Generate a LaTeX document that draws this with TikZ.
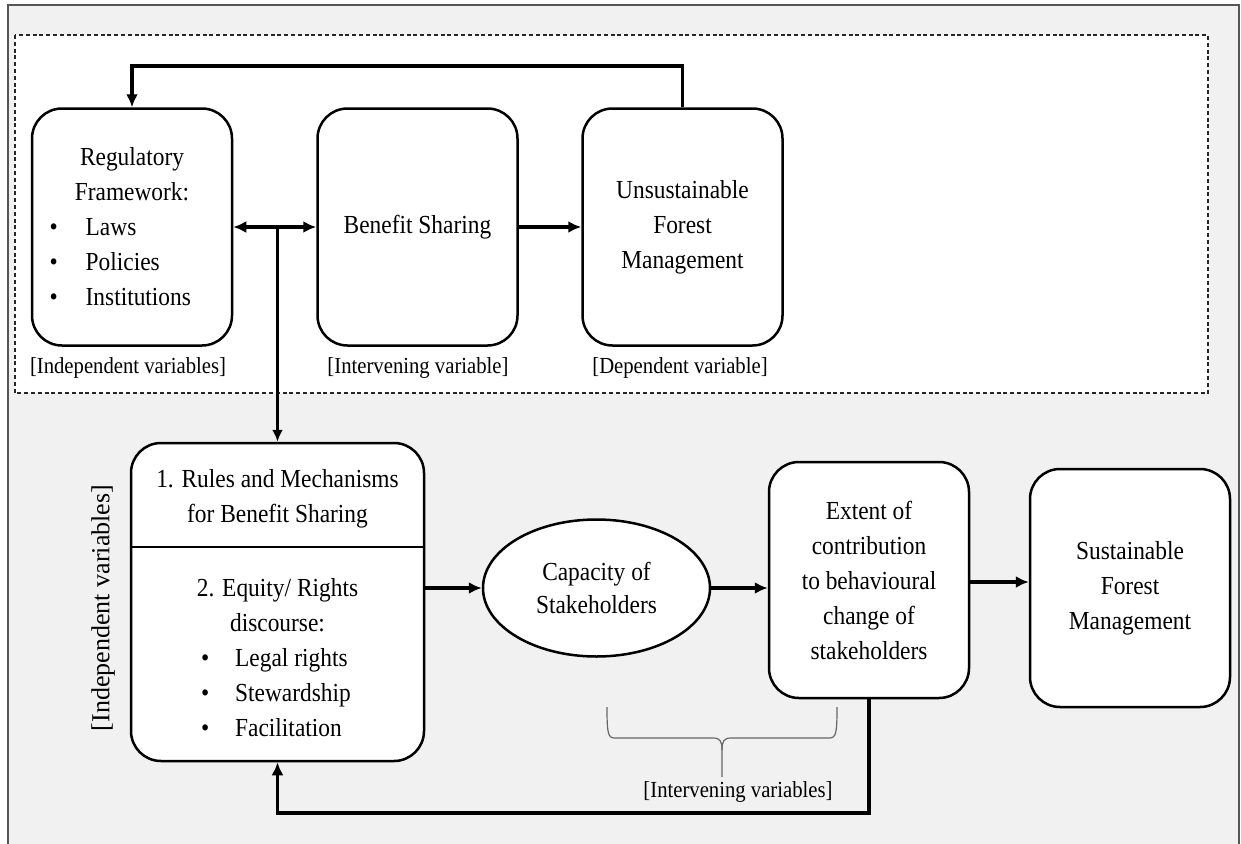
\documentclass[tikz,border=0pt]{standalone}
\usepackage{fontspec}
\setmainfont{Liberation Serif}[FakeStretch=0.9]
\newfontfamily\rotfont{Liberation Serif}
\usetikzlibrary{arrows.meta,shapes.geometric,calc}
\definecolor{bggray}{HTML}{F1F1F1}
\definecolor{framegray}{HTML}{555555}
\definecolor{bracegray}{HTML}{666666}
\begin{document}
\begin{tikzpicture}[x=1pt,y=-1pt,
  txt/.style={font=\fontsize{26}{35}\selectfont,align=center,inner sep=0pt},
  lbl/.style={font=\fontsize{23}{28}\selectfont,inner sep=0pt},
  box/.style={draw,line width=2.5pt,rounded corners=30pt,fill=white,
    minimum width=200pt,minimum height=237pt,inner sep=0pt,align=center,
    font=\fontsize{26}{35}\selectfont},
  oval/.style={draw,line width=2.5pt,ellipse,fill=white,minimum width=227pt,
    minimum height=137pt,inner sep=0pt,align=center,font=\fontsize{26}{33}\selectfont},
  conn/.style={line width=3.8pt,-{Latex[length=13pt,width=12pt]}},
  conntwo/.style={line width=3.8pt,{Latex[length=13pt,width=12pt]}-{Latex[length=13pt,width=12pt]}},
  connthin/.style={line width=2.8pt,-{Latex[length=12pt,width=11pt]}},
  bracestyle/.style={draw=bracegray,line width=1.2pt}
]
\useasboundingbox (0,0) rectangle (1241,843);
\clip (0,0) rectangle (1241,843);
% outer frame
\draw[draw=framegray,line width=1.6pt,fill=bggray] (8,5) rectangle (1239,880);
% dashed region
\draw[draw=black!85,line width=1.1pt,dash pattern=on 4pt off 2.8pt,fill=white] (15,35) rectangle (1208,393);

% top row
\node[box] (reg) at (132,227) {Regulatory\\Framework:\\
  \makebox[165pt][l]{\textbullet\hspace{28pt}Laws}\\
  \makebox[165pt][l]{\textbullet\hspace{28pt}Policies}\\
  \makebox[165pt][l]{\textbullet\hspace{28pt}Institutions}};
\node[box] (ben) at (417.5,227) {Benefit Sharing};
\node[box] (unsus) at (682.5,227) {Unsustainable\\Forest\\Management};

\node[lbl] (l1) at (128,368) {[Independent variables]};
\node[lbl] (l2) at (418,368) {[Intervening variable]};
\node[lbl] (l3) at (680,368) {[Dependent variable]};

% bottom row
\node[box,minimum width=293pt,minimum height=318pt] (rules) at (277.5,602) {};
\draw[line width=2.5pt] (rules.west |- 0,547) -- (rules.east |- 0,547);
\node[txt] (rt) at (277.5,499) {1. Rules and Mechanisms\\for Benefit Sharing};
\node[txt] (rb) at (277.5,658) {2. Equity/ Rights\\discourse:\\
  \makebox[153pt][l]{\textbullet\hspace{26pt}Legal rights}\\
  \makebox[153pt][l]{\textbullet\hspace{26pt}Stewardship}\\
  \makebox[153pt][l]{\textbullet\hspace{26pt}Facilitation}};
\node[lbl,font=\rotfont\fontsize{26}{30}\selectfont,rotate=90] (l4) at (103,608) {[Independent variables]};

\node[oval] (cap) at (596.5,588) {Capacity of\\Stakeholders};
\node[box,minimum width=200pt,minimum height=236pt] (ext) at (869,580) {Extent of\\contribution\\to behavioural\\change of\\stakeholders};
\node[box,minimum width=200pt,minimum height=238pt] (sus) at (1130,588) {Sustainable\\Forest\\Management};

% brace
\draw[bracestyle] (607,707) .. controls (607,734) and (608,738) .. (615,738) -- (713,738)
  .. controls (720,738) and (722,741) .. (722,750) -- (722,777);
\draw[bracestyle] (837,707) .. controls (837,734) and (836,738) .. (829,738) -- (731,738)
  .. controls (724,738) and (722,741) .. (722,750);
\node[lbl] (l5) at (738,792) {[Intervening variables]};

% connectors
\coordinate (topy) at (0,66);
\coordinate (boty) at (0,813);
\draw[conn] (unsus.north) -- (unsus.north |- topy) -| (reg.north);
\draw[conntwo] (reg.east) -- (ben.west);
\coordinate (junc) at (rules.north |- reg.east);
\draw[connthin] (junc) -- (rules.north);
\draw[conn] (ben.east) -- (unsus.west);
\draw[conn] (rules.east |- cap.west) -- (cap.west);
\draw[conn] (cap.east) -- (cap.east -| ext.west);
\draw[conn] (ext.east |- 0,582) -- (sus.west |- 0,582);
\draw[conn] (ext.south) -- (ext.south |- boty) -| (rules.south);
\end{tikzpicture}
\end{document}
